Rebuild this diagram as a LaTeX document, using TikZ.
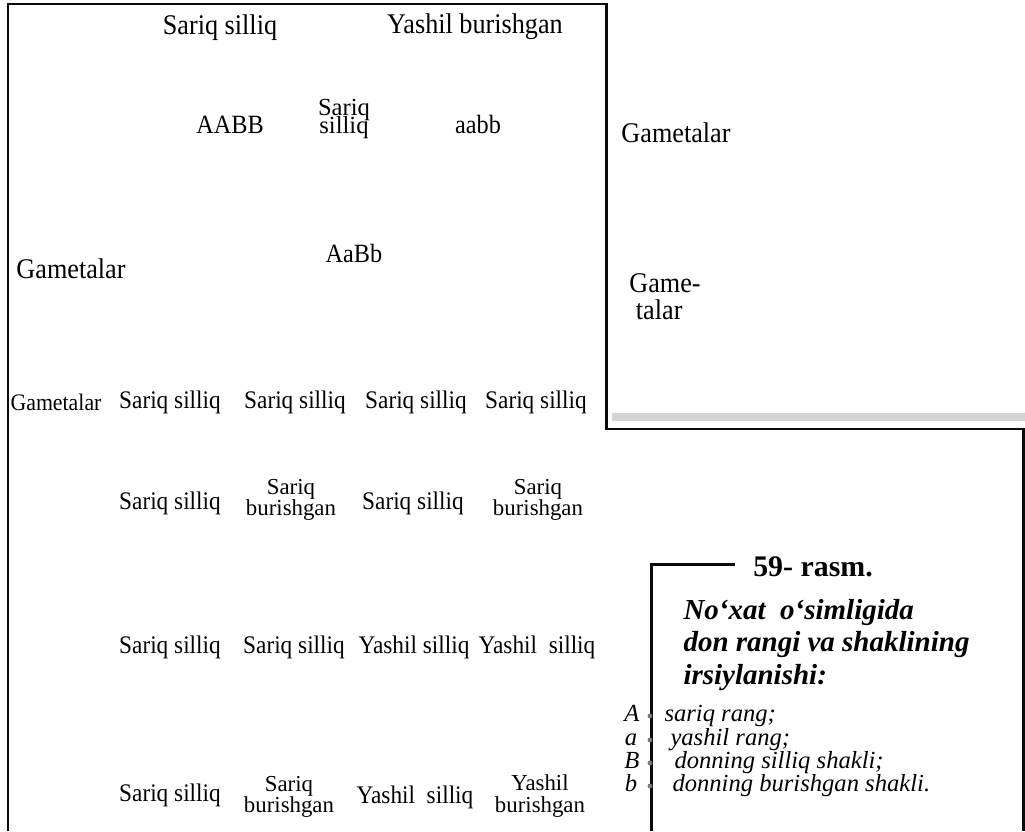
\documentclass[tikz,border=0pt]{standalone}
\usepackage{fontspec}
\setmainfont{Liberation Serif}
\newfontfamily\labfont{Liberation Serif}[FakeStretch=0.92]
\usepackage{tikz}
\usetikzlibrary{positioning}
\definecolor{myline}{RGB}{10,10,10}
\definecolor{mygray}{RGB}{212,212,212}
\definecolor{mydot}{RGB}{120,120,120}
\newcommand\tightls{\lineskiplimit -20pt\relax\lineskip 0pt\relax}

\begin{document}
\begin{tikzpicture}[x=0.2mm,y=-0.2mm,line width=1.7pt,
  every node/.style={inner sep=0pt,align=center,font=\labfont\fontsize{14.4}{14}\selectfont},
  two/.style={font=\fontsize{13}{12}\selectfont\tightls},
  big/.style={font=\labfont\fontsize{16.2}{16}\selectfont},
  gen/.style={font=\labfont\fontsize{15}{15}\selectfont},
  ttl/.style={font=\fontsize{16.5}{18.6}\selectfont\bfseries\itshape,align=left},
  leg/.style={font=\fontsize{14}{14}\selectfont\itshape}]
\useasboundingbox (0,0) rectangle (1025,831);
% ramkalar
\fill[mygray] (612,413) rectangle (1025,421);
\draw[myline] (8,831)--(8,4)--(606.5,4)--(606.5,429)--(1023.5,429)--(1023.5,831);
\draw[myline] (735,564)--(651.5,564)--(651.5,831);
% ota-ona
\node[big] (pSS) at (220,28){Sariq silliq};
\node[big] (pYB) at (475,27){Yashil burishgan};
\node[gen] (gAABB) at (230,125){AABB};
\node[two,font=\fontsize{14}{10.5}\selectfont\tightls] (fSS) at (344,119){Sariq\\silliq};
\node[gen] (gaabb) at (478,124){aabb};
\node[big] (gamR1) at (676,133){Gametalar};
\node[gen] (gAaBb) at (354,253){AaBb};
\node[big] (gamL) at (71,269){Gametalar};
\node[big,align=left,font=\labfont\fontsize{16.2}{15.5}\selectfont] (gamR2) at (665,297){Game-\\\ talar};
% 1-qator
\node[font=\labfont\fontsize{13.5}{13}\selectfont] (gamS) at (56,402){Gametalar};
\node (r1a) at (170,402){Sariq silliq};
\node (r1b) at (295,402){Sariq silliq};
\node (r1c) at (416,402){Sariq silliq};
\node (r1d) at (536,402){Sariq silliq};
% 2-qator
\node (r2a) at (170,503){Sariq silliq};
\node[two] (r2b) at (291,500){Sariq\\burishgan};
\node (r2c) at (413,503){Sariq silliq};
\node[two] (r2d) at (538,500){Sariq\\burishgan};
% 3-qator
\node (r3a) at (170,647){Sariq silliq};
\node (r3b) at (294,647){Sariq silliq};
\node (r3c) at (414,647){Yashil silliq};
\node (r3d) at (537,647){Yashil\ \ silliq};
% 4-qator
\node (r4a) at (170,795){Sariq silliq};
\node[two] (r4b) at (289,797){Sariq\\burishgan};
\node (r4c) at (415,797){Yashil\ \ silliq};
\node[two] (r4d) at (540,796){Yashil\\burishgan};
% izoh
\node[font=\fontsize{17}{18}\selectfont\bfseries] (rasm) at (813,567){59- rasm.};
\node[ttl,anchor=west] (ttl) at (682,645){No‘xat\ \ o‘simligida\\don rangi va shaklining\\irsiylanishi:};
\node[leg,anchor=base] (kA) at (632,721){A};
\node[leg,anchor=base] (ka) at (631,745){a};
\node[leg,anchor=base] (kB) at (632,768){B};
\node[leg,anchor=base] (kb) at (631,791){b};
\fill[mydot] (650,716) circle (1.4pt) (650,740) circle (1.4pt) (650,763) circle (1.4pt) (650,786) circle (1.4pt);
\node[leg,anchor=base west] (lA) at (663,721){sariq rang;};
\node[leg,anchor=base west] (la) at (669,745){yashil rang;};
\node[leg,anchor=base west] (lB) at (673,768){donning silliq shakli;};
\node[leg,anchor=base west] (lb) at (671,791){donning burishgan shakli.};
\end{tikzpicture}
\end{document}
